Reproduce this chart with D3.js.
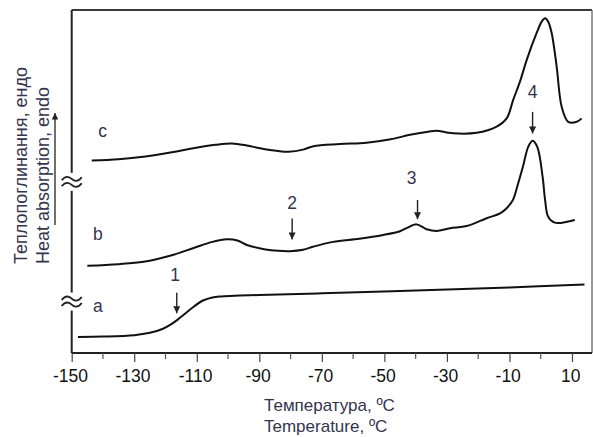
<!DOCTYPE html>
<html><head><meta charset="utf-8">
<script src="https://cdn.jsdelivr.net/npm/d3@7"></script>
<style>
body{margin:0;background:#fff}
text{font-family:"Liberation Sans",Arial,sans-serif}
</style>
</head><body>
<svg id="chart" width="593" height="437"></svg>
<script>
// ---- data (temperature °C, heat flow in arbitrary units, curves offset) ----
const tempA = [-148, -140, -130, -125, -121, -118, -116, -114, -111, -108, -105, -102, -98, -90, -70, -40, -10, 14];
const valA  = [4.7, 4.8, 5.2, 5.9, 7.0, 8.5, 9.8, 11.3, 13.5, 15.3, 16.2, 16.5, 16.7, 16.9, 17.4, 18.2, 19.1, 20.0];

const tempB = [-145, -135, -127, -118, -111, -105, -100.4, -97, -94, -88, -84, -80.2, -76, -72.8, -66.4, -58, -50.4, -45, -42.9, -39.7, -36.5, -33.3, -29, -23.7, -17.3, -13, -10.9, -8.9, -7.2, -5.7, -4.0, -2.6, -1.1, 0.6, 1.4, 2.4, 4.5, 10.9];
const valB  = [25.45, 25.9, 26.6, 28.5, 30.6, 32.4, 33.15, 32.8, 31.5, 30.2, 29.8, 29.7, 30.1, 31.0, 32.4, 33.3, 34.4, 35.5, 36.4, 37.5, 36.1, 35.6, 36.4, 37.0, 39.3, 40.7, 42.2, 44.6, 49.5, 54.3, 60.1, 61.9, 60.1, 51.4, 44.6, 39.7, 38.0, 38.8];

const tempC = [-143.6, -135, -127.1, -118, -111.1, -104, -98.8, -94, -89.8, -84, -80.7, -76, -72.7, -64.2, -55.7, -48, -41.8, -36, -33.3, -30, -28, -20.5, -14.1, -10.9, -8.8, -6.5, -4.5, -1.3, 0.3, 1.4, 2.4, 3.5, 5.1, 6.7, 8.8, 11.5, 13.1];
const valC  = [56.1, 56.5, 57.2, 58.5, 59.7, 60.7, 61.1, 60.5, 59.7, 58.9, 58.7, 59.3, 60.3, 60.9, 61.3, 62.3, 63.6, 64.5, 64.8, 64.3, 64.05, 64.2, 66.0, 68.4, 73.8, 79.5, 85.4, 93.3, 96.6, 97.6, 96.6, 93.3, 83.5, 71.8, 67.4, 67.4, 68.4];

const seriesNames = ["a", "b", "c"];
const seriesLabelTemps = [-141.6, -141.6, -140.1];
const seriesLabelVals  = [13.7, 34.7, 64.7];

const annoLabels = ["1", "2", "3", "4"];
const annoTemps  = [-116.4, -79.5, -39.4, -2.6];
const annoTipVals = [11.6, 33.1, 39.0, 64.0];
const annoTopVals = [17.6, 39.2, 44.6, 70.3];
const annoLabelTemps = [-116.9, -79.5, -41.3, -2.6];
const annoLabelVals  = [22.7, 43.6, 50.9, 76.2];

const majorTicks = [-150, -130, -110, -90, -70, -50, -30, -10, 10];
const minorTicks = [-140, -120, -100, -80, -60, -40, -20, 0];
const axisBreakVals = [15.0, 49.9];

const xTitle = ["Температура, ºC", "Temperature, ºC"];
const yTitle = ["Теплопоглинання, ендо", "Heat absorption, endo"];

// ---- layout ----
const svg = d3.select("#chart");
const L = 71.7, R = 592, T = 10, B = 353;
const x = d3.scaleLinear().domain([-150, 16.4]).range([L, R]);
const y = d3.scaleLinear().domain([0, 100]).range([B, T]);
const textCol = "#34344e";

// frame: top and right
svg.append("line").attr("x1", L).attr("x2", R).attr("y1", T).attr("y2", T)
  .attr("stroke", "#3a3a3a").attr("stroke-width", 2);
svg.append("line").attr("x1", R).attr("x2", R).attr("y1", T).attr("y2", B)
  .attr("stroke", "#777").attr("stroke-width", 1.5);

// x axis
const gx = svg.append("g").attr("transform", `translate(0,${B})`);
gx.call(d3.axisBottom(x).tickValues(majorTicks).tickSize(9).tickFormat(d => d).tickSizeOuter(0));
gx.select(".domain").attr("stroke", "#222").attr("stroke-width", 2);
gx.selectAll(".tick line").attr("stroke", "#444").attr("stroke-width", 1.2);
gx.selectAll(".tick text").attr("font-size", 17.5).attr("fill", "#111")
  .attr("font-family", '"Liberation Sans",Arial,sans-serif').attr("dy", "0.95em").attr("dx", "-0.1em");
gx.selectAll(".minor").data(minorTicks).enter().append("line")
  .attr("x1", d => x(d)).attr("x2", d => x(d)).attr("y1", 0).attr("y2", 6)
  .attr("stroke", "#555").attr("stroke-width", 1.2);
gx.select(".domain").attr("d", `M${L},0H${R}`);

// y axis with breaks
const bys = axisBreakVals.map(v => y(v)).sort((a, b) => a - b);
let segs = [];
let prev = T;
bys.forEach(by => { segs.push([prev, by - 9]); prev = by + 9; });
segs.push([prev, B]);
segs.forEach(s => svg.append("line").attr("x1", L).attr("x2", L).attr("y1", s[0]).attr("y2", s[1])
  .attr("stroke", "#222").attr("stroke-width", 2));
bys.forEach(by => {
  [-3, 3].forEach(off => {
    const yy = by + off;
    svg.append("path")
      .attr("d", `M${L-10},${yy+1.5} C${L-6},${yy-4} ${L-2},${yy-2} ${L},${yy} S${L+6},${yy+4} ${L+10},${yy-1.5}`)
      .attr("fill", "none").attr("stroke", "#222").attr("stroke-width", 1.8);
  });
});

// curves
const line = d3.line().x(d => x(d[0])).y(d => y(d[1])).curve(d3.curveCatmullRom.alpha(0.5));
[[tempA, valA], [tempB, valB], [tempC, valC]].forEach(([t, v]) => {
  svg.append("path").datum(t.map((d, i) => [d, v[i]]))
    .attr("d", line).attr("fill", "none").attr("stroke", "#111")
    .attr("stroke-width", 2).attr("stroke-linejoin", "round");
});

// series labels
svg.selectAll(".slab").data(seriesNames).enter().append("text")
  .attr("x", (d, i) => x(seriesLabelTemps[i])).attr("y", (d, i) => y(seriesLabelVals[i]))
  .attr("text-anchor", "middle").attr("dominant-baseline", "central")
  .attr("font-size", 17.5).attr("fill", textCol).text(d => d);

// arrows
const defs = svg.append("defs");
defs.append("marker").attr("id", "ah").attr("viewBox", "0 0 10 10").attr("refX", 10).attr("refY", 5)
  .attr("markerWidth", 5).attr("markerHeight", 5).attr("orient", "auto")
  .append("path").attr("d", "M0,0L10,5L0,10z").attr("fill", "#222");
annoLabels.forEach((lab, i) => {
  svg.append("line").attr("x1", x(annoTemps[i])).attr("x2", x(annoTemps[i]))
    .attr("y1", y(annoTopVals[i])).attr("y2", y(annoTipVals[i]))
    .attr("stroke", "#222").attr("stroke-width", 1.4).attr("marker-end", "url(#ah)");
  svg.append("text").attr("x", x(annoLabelTemps[i])).attr("y", y(annoLabelVals[i]))
    .attr("text-anchor", "middle").attr("dominant-baseline", "central")
    .attr("font-size", 17.5).attr("fill", textCol).text(lab);
});

// x title
xTitle.forEach((t, i) => {
  svg.append("text").attr("x", 264).attr("y", 410.7 + i * 21)
    .attr("font-size", 17).attr("fill", textCol).text(t);
});

// y title
yTitle.forEach((t, i) => {
  svg.append("text").attr("transform", `translate(${26.5 + i * 22.5},264) rotate(-90)`)
    .attr("font-size", 18).attr("fill", textCol).text(t);
});
svg.append("line").attr("x1", 55).attr("x2", 55).attr("y1", 225).attr("y2", 113)
  .attr("stroke", "#222").attr("stroke-width", 1.3).attr("marker-end", "url(#ah)");
</script>
</body></html>
